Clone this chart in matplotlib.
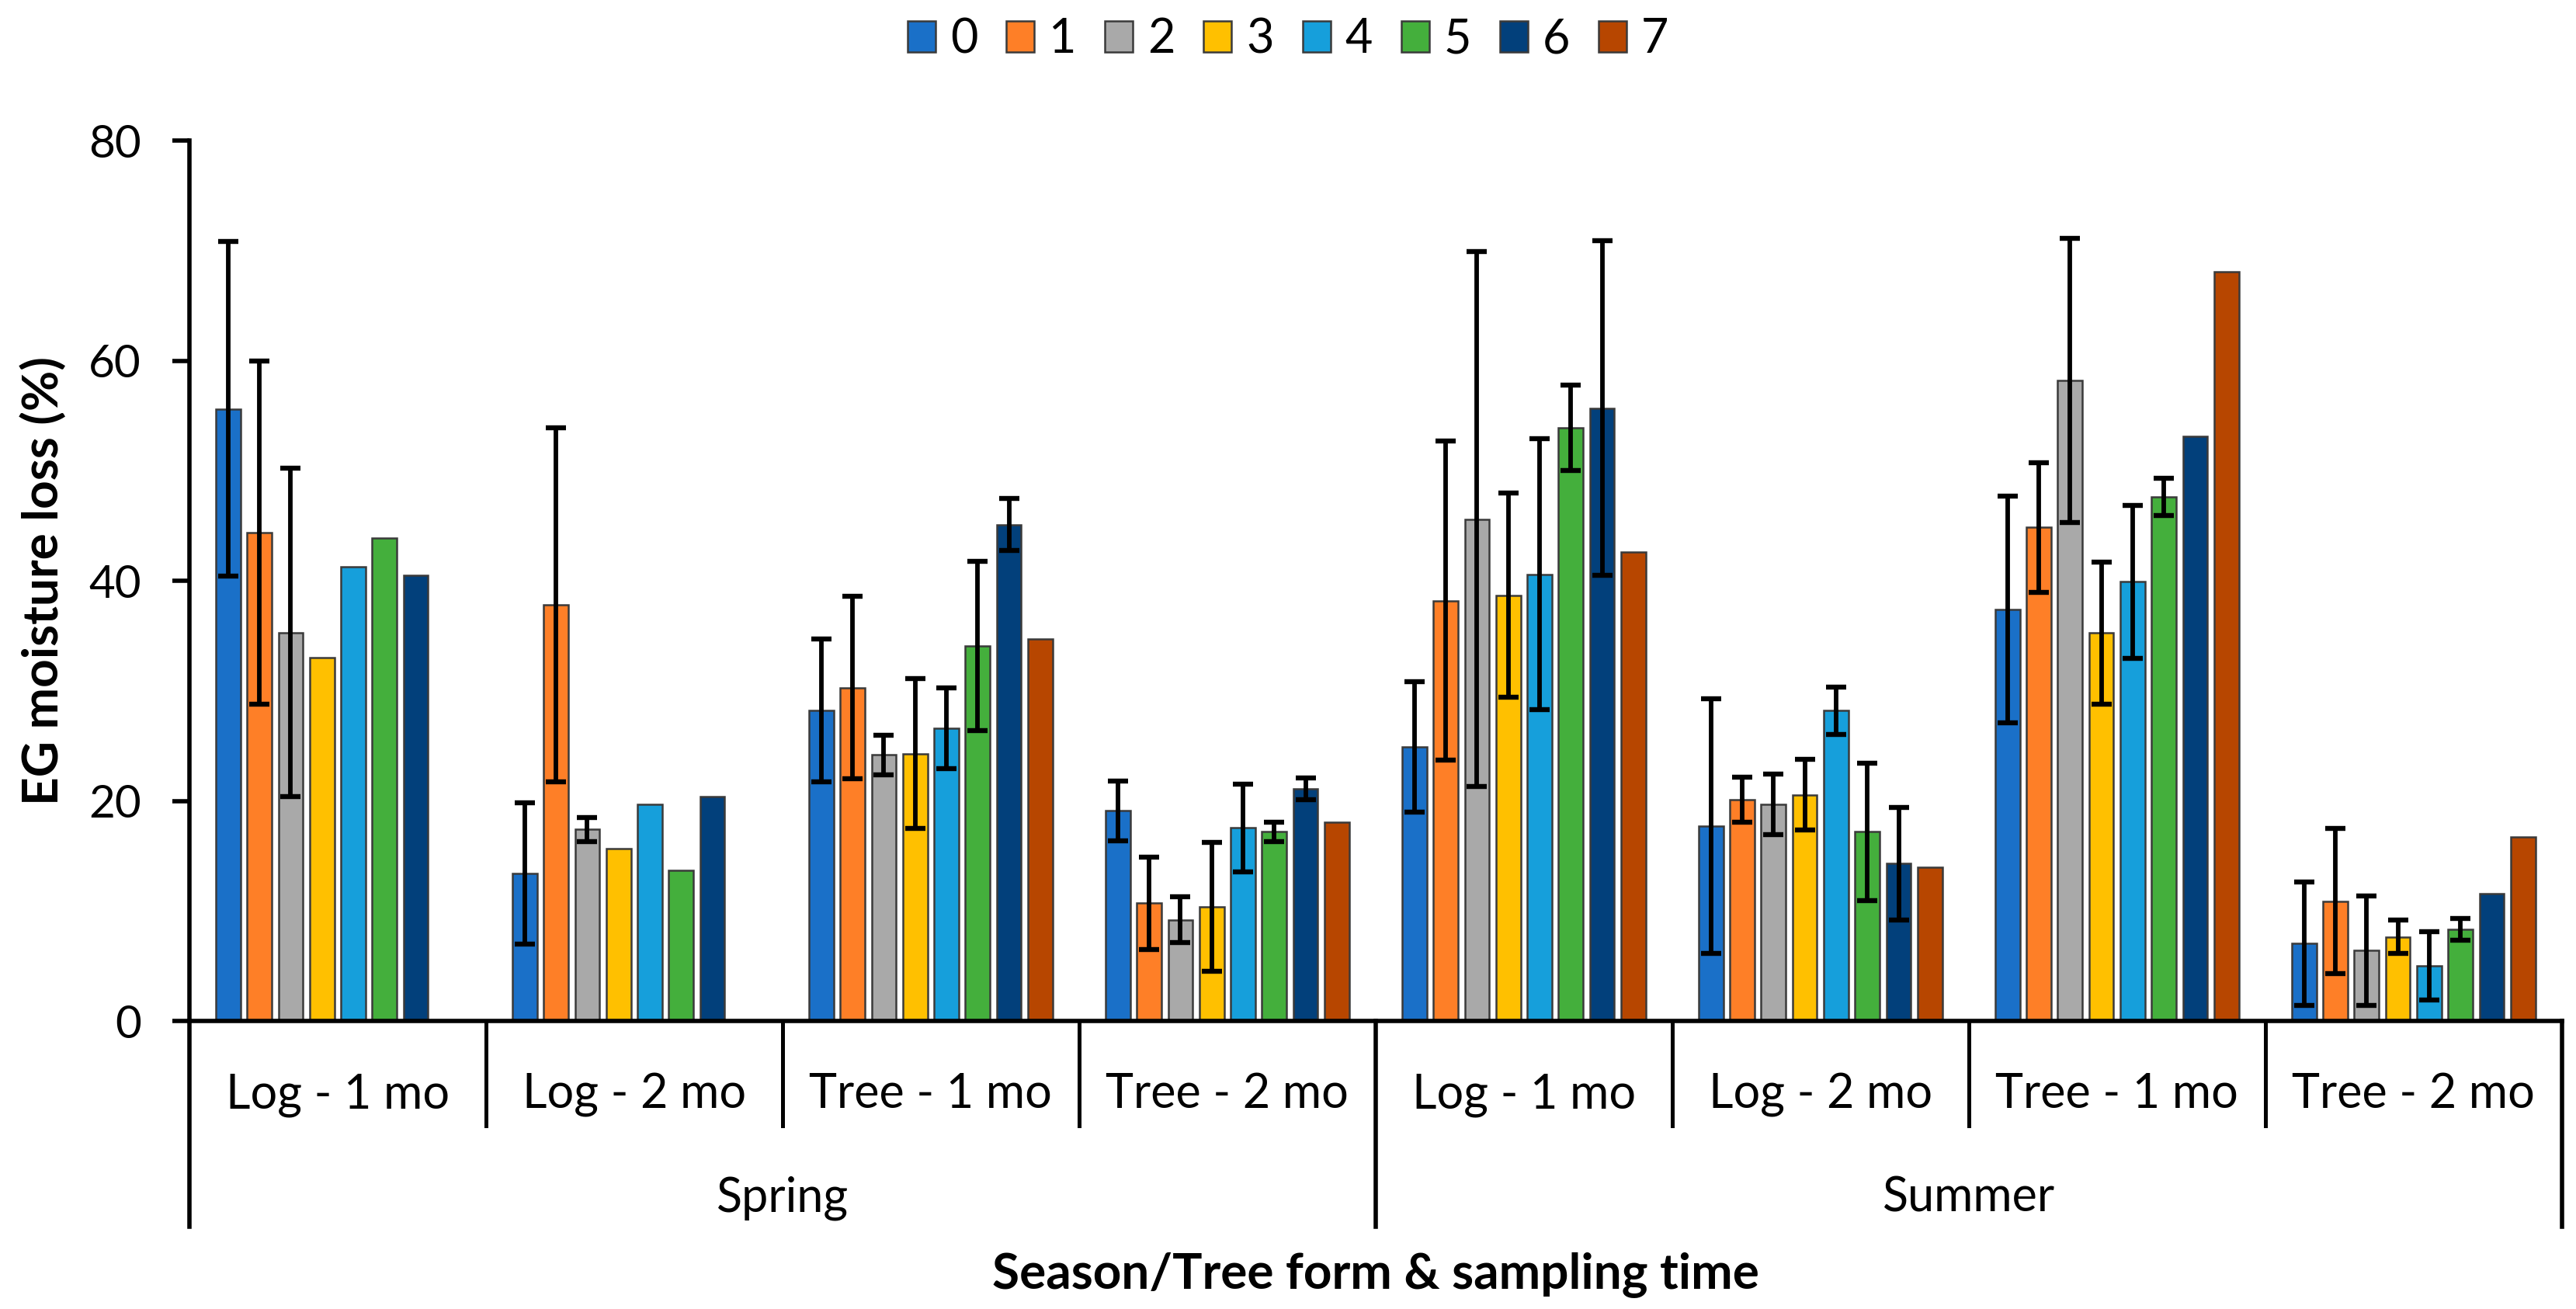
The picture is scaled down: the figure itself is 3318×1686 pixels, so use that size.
import numpy as np
import matplotlib
matplotlib.use("Agg")
import matplotlib.pyplot as plt
from matplotlib.lines import Line2D

plt.rcParams['font.family'] = ['Lato', 'DejaVu Sans']

nan = np.nan
groups = ['Log - 1 mo', 'Log - 2 mo', 'Tree - 1 mo', 'Tree - 2 mo',
          'Log - 1 mo', 'Log - 2 mo', 'Tree - 1 mo', 'Tree - 2 mo']
seasons = ['Spring', 'Summer']
series = ['0', '1', '2', '3', '4', '5', '6', '7']
colors = ['#1A70C8', '#FE7F27', '#A9A9A9', '#FFC000',
          '#169FDB', '#44AF3C', '#02407B', '#B74600']

mean_0 = [55.6, 13.4, 28.2, 19.1, 24.9, 17.7, 37.4, 7.05]
mean_1 = [44.4, 37.8, 30.3, 10.7, 38.2, 20.1, 44.85, 10.9]
mean_2 = [35.3, 17.4, 24.2, 9.2, 45.6, 19.7, 58.2, 6.4]
mean_3 = [33.0, 15.7, 24.3, 10.4, 38.7, 20.55, 35.25, 7.65]
mean_4 = [41.3, 19.7, 26.6, 17.55, 40.6, 28.2, 39.9, 5.0]
mean_5 = [43.9, 13.7, 34.1, 17.2, 53.9, 17.2, 47.65, 8.35]
mean_6 = [40.5, 20.4, 45.1, 21.1, 55.7, 14.3, 53.1, 11.55]
mean_7 = [nan, nan, 34.7, 18.1, 42.6, 14.0, 68.1, 16.75]

err_0 = [15.2, 6.4, 6.5, 2.7, 5.95, 11.55, 10.3, 5.6]
err_1 = [15.6, 16.1, 8.3, 4.2, 14.5, 2.05, 5.9, 6.6]
err_2 = [14.9, 1.1, 1.8, 2.1, 24.3, 2.75, 12.9, 4.95]
err_3 = [nan, nan, 6.8, 5.85, 9.3, 3.2, 6.45, 1.5]
err_4 = [nan, nan, 3.7, 4.0, 12.3, 2.15, 6.95, 3.1]
err_5 = [nan, nan, 7.7, 0.9, 3.9, 6.25, 1.7, 1.0]
err_6 = [nan, nan, 2.35, 1.0, 15.2, 5.1, nan, nan]
err_7 = [nan, nan, nan, nan, nan, nan, nan, nan]

means = [mean_0, mean_1, mean_2, mean_3, mean_4, mean_5, mean_6, mean_7]
errs = [err_0, err_1, err_2, err_3, err_4, err_5, err_6, err_7]

fig = plt.figure(figsize=(16.59, 8.43), dpi=200)
ax = fig.add_axes([0.0735, 0.22, 0.921, 0.6726])

x = np.arange(len(groups))
step = 0.1055
width = 0.083
handles = []
for j, (m, e) in enumerate(zip(means, errs)):
    xs = x + (j - 3.5) * step
    m = np.array(m, dtype=float)
    e = np.array(e, dtype=float)
    b = ax.bar(xs, np.nan_to_num(m), width, color=colors[j], edgecolor='#3a3a3a',
               linewidth=0.9, zorder=2, label=series[j])
    ok = ~np.isnan(e) & ~np.isnan(m)
    if ok.any():
        ax.errorbar(xs[ok], m[ok], yerr=e[ok], fmt='none', ecolor='black',
                    elinewidth=2.1, capsize=4.8, capthick=2.3, zorder=3)
    handles.append(b)

ax.set_xlim(-0.5, 7.5)
ax.set_ylim(0, 80)
ax.set_yticks([0, 20, 40, 60, 80])
ax.tick_params(axis='y', length=7.8, width=2, pad=14.5, labelsize=21)
ax.tick_params(axis='x', length=0, labelbottom=False)
for s in ['top', 'right']:
    ax.spines[s].set_visible(False)
for s in ['left', 'bottom']:
    ax.spines[s].set_linewidth(2)

tr = ax.get_xaxis_transform()
# group separators
for b in [0.5, 1.5, 2.5, 4.5, 5.5, 6.5]:
    ax.add_line(Line2D([b, b], [0, -0.119], transform=tr, color='black',
                       lw=1.8, clip_on=False))
for b in [-0.5, 3.5, 7.5]:
    ax.add_line(Line2D([b, b], [0, -0.2337], transform=tr, color='black',
                       lw=2, clip_on=False))

for i, g in enumerate(groups):
    ax.text(i, -0.0988, g, transform=tr, ha='center', va='baseline', fontsize=22)
for k, s in enumerate(seasons):
    ax.text(1.5 + 4 * k, -0.216, s, transform=tr, ha='center', va='baseline', fontsize=22)

ax.text(0.5, -0.3034, 'Season/Tree form & sampling time', transform=ax.transAxes,
        ha='center', va='baseline', fontsize=23, fontweight='bold')
ax.text(-0.0553, 0.5, 'EG moisture loss (%)', transform=ax.transAxes, rotation=90,
        rotation_mode='anchor', ha='center', va='baseline', fontsize=23,
        fontweight='bold')

fig.legend(handles=handles, labels=series, loc='center', bbox_to_anchor=(0.5, 0.9698),
           ncol=8, frameon=False, fontsize=22, handlelength=0.59, handleheight=0.62,
           handletextpad=0.31, columnspacing=0.6, borderpad=0, borderaxespad=0)

fig.savefig('out.png', dpi=200)
